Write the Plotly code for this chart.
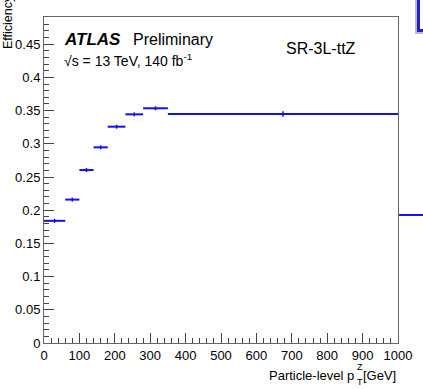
import plotly.graph_objects as go

# ---- data ----
bin_edges = [0, 60, 100, 140, 180, 230, 280, 350, 1000]
efficiency = [0.184, 0.216, 0.2605, 0.2947, 0.3258, 0.3444, 0.3535, 0.3449]
eff_error = [0.003, 0.003, 0.003, 0.003, 0.003, 0.003, 0.003, 0.004]
next_panel_value = 0.1928   # first bin of the neighbouring (cropped) panel

centers = [(a + b) / 2 for a, b in zip(bin_edges[:-1], bin_edges[1:])]
half_w = [(b - a) / 2 for a, b in zip(bin_edges[:-1], bin_edges[1:])]

W, H = 423, 389
L, R, T, B = 44, 398, 17, 343
FONT = "Liberation Sans, Arial, Helvetica, sans-serif"
BLUE = "#1010f0"


def px(x):
    return (x - L) / (R - L)


def py(y):
    return (B - y) / (B - T)


fig = go.Figure()
fig.add_trace(go.Scatter(
    x=centers, y=efficiency, mode="markers",
    marker=dict(size=1, color=BLUE),
    error_x=dict(type="data", array=half_w, width=0, thickness=2, color=BLUE),
    error_y=dict(type="data", array=eff_error, width=0, thickness=1.5, color=BLUE),
    showlegend=False, hoverinfo="x+y",
))

axis_common = dict(
    showgrid=False, zeroline=False, ticks="inside", ticklen=10, tickwidth=1,
    tickcolor="#444", linecolor="#666", linewidth=1, mirror=True,
    showline=True, tickfont=dict(family=FONT, size=13, color="black"),
)

fig.update_layout(
    width=W, height=H,
    margin=dict(l=L, r=W - R, t=T, b=H - B, pad=0),
    paper_bgcolor="white", plot_bgcolor="white",
    font=dict(family=FONT, size=13, color="black"),
    xaxis=dict(range=[0, 1000], dtick=100, tick0=0,
               minor=dict(ticks="inside", dtick=20, ticklen=5, tickcolor="#444"),
               **axis_common),
    yaxis=dict(range=[0, 0.491], dtick=0.05, tick0=0,
               minor=dict(ticks="inside", dtick=0.01, ticklen=5, tickcolor="#444"),
               **axis_common),
)

ann = []
# y title
ann.append(dict(text="Efficiency", xref="paper", yref="paper",
                x=px(8), y=py(51), xanchor="center", yanchor="bottom",
                textangle=-90, showarrow=False,
                font=dict(family=FONT, size=12.5, color="black")))
# x title pieces
ann.append(dict(text="[GeV]", xref="paper", yref="paper", x=1, y=py(375),
                xanchor="right", yanchor="middle", showarrow=False,
                font=dict(family=FONT, size=13)))
ann.append(dict(text="Particle-level p", xref="paper", yref="paper", x=px(356),
                y=py(375), xanchor="right", yanchor="middle", showarrow=False,
                font=dict(family=FONT, size=13)))
ann.append(dict(text="Z", xref="paper", yref="paper", x=px(355), y=py(367),
                xanchor="left", yanchor="middle", showarrow=False,
                font=dict(family=FONT, size=9)))
ann.append(dict(text="T", xref="paper", yref="paper", x=px(355), y=py(389),
                xanchor="left", yanchor="bottom", showarrow=False,
                font=dict(family=FONT, size=9)))
# labels
ann.append(dict(text="<b><i>ATLAS</i></b>", xref="paper", yref="paper",
                x=px(62), y=py(39), xanchor="left", yanchor="middle",
                showarrow=False, font=dict(family=FONT, size=17)))
ann.append(dict(text="Preliminary", xref="paper", yref="paper",
                x=px(131), y=py(39), xanchor="left", yanchor="middle",
                showarrow=False, font=dict(family=FONT, size=16)))
ann.append(dict(text="√s = 13 TeV, 140 fb<sup>-1</sup>", xref="paper", yref="paper",
                x=px(62), y=py(60), xanchor="left", yanchor="middle",
                showarrow=False, font=dict(family=FONT, size=14)))
ann.append(dict(text="SR-3L-ttZ", xref="paper", yref="paper",
                x=px(284), y=py(48), xanchor="left", yanchor="middle",
                showarrow=False, font=dict(family=FONT, size=16)))
fig.update_layout(annotations=ann)

# neighbouring panel remnants (cropped at right edge)
fig.add_shape(type="line", xref="paper", yref="y", x0=1.003, x1=1.2,
              y0=next_panel_value, y1=next_panel_value,
              line=dict(color=BLUE, width=2))
fig.add_shape(type="rect", xref="paper", yref="paper",
              x0=px(416), x1=px(450), y0=py(33), y1=py(-20),
              line=dict(color="#bbbbbb", width=2), fillcolor="white")
fig.add_shape(type="rect", xref="paper", yref="paper",
              x0=px(418.5), x1=px(450), y0=py(30.5), y1=py(-20),
              line=dict(color="#2222cc", width=3), fillcolor="white")

fig.write_html("out.html")
